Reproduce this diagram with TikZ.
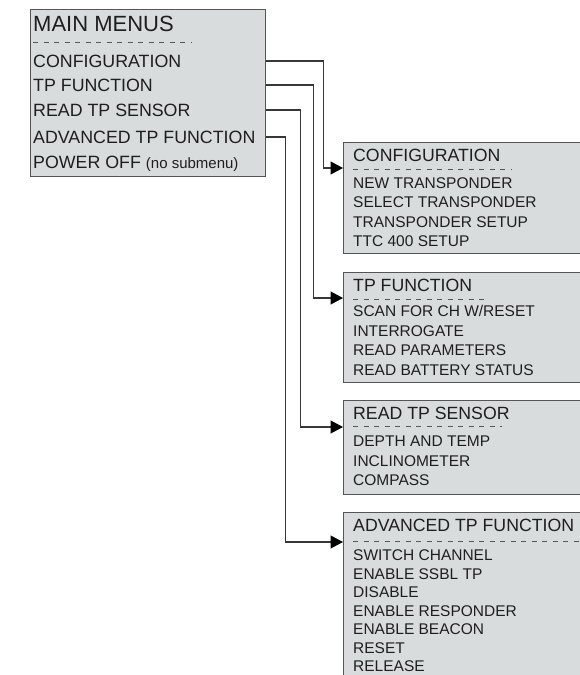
\documentclass[tikz,border=0pt]{standalone}
\usepackage{fontspec}
\setmainfont{Liberation Sans}
\usetikzlibrary{arrows.meta}
\definecolor{boxfill}{RGB}{217,220,221}
\definecolor{boxline}{RGB}{85,85,85}
\definecolor{txt}{RGB}{30,30,30}
\definecolor{conncol}{RGB}{55,55,55}
\tikzset{
  menubox/.style={draw=boxline, line width=1.3pt, fill=boxfill, anchor=north west, inner sep=0pt},
  bigtitle/.style={anchor=west, inner sep=0pt, text=txt, font=\fontsize{22}{24}\selectfont, text height=15.8pt, text depth=0pt},
  mainitem/.style={anchor=west, inner sep=0pt, text=txt, font=\fontsize{17.8}{20}\selectfont, text height=12.7pt, text depth=0pt},
  subtitle/.style={anchor=west, inner sep=0pt, text=txt, font=\fontsize{17.7}{20}\selectfont, text height=12.7pt, text depth=0pt},
  subitem/.style={anchor=west, inner sep=0pt, text=txt, font=\fontsize{15.5}{18}\selectfont, text height=11.1pt, text depth=0pt},
  dashline/.style={draw=boxline, line width=0.95pt, dash pattern=on 5pt off 5.5pt},
  conn/.style={draw=conncol, line width=1.2pt, -{Triangle[length=12.5pt,width=13pt,color=black]}}
}
\begin{document}
\begin{tikzpicture}[x=1pt,y=-1pt]
\useasboundingbox (0,0) rectangle (580,675);
\clip (0,0) rectangle (580,675);
% main box
\node[menubox, minimum width=235pt, minimum height=167pt] (main) at (30,9) {};
\node[bigtitle] (mt) at (33,23.5) {MAIN MENUS};
\draw[dashline] (33,42) -- (192,42);
\node[mainitem] (mcfg) at (33,61) {CONFIGURATION};
\node[mainitem] (mtpf) at (33,85) {TP FUNCTION};
\node[mainitem] (mrts) at (33,110) {READ TP SENSOR};
\node[mainitem] (madv) at (33,137) {ADVANCED TP FUNCTION};
\node[mainitem] (mpow) at (33,162) {POWER OFF {\fontsize{15}{17}\selectfont(no submenu)}};
% configuration box
\node[menubox, minimum width=260pt, minimum height=111pt] (cfg) at (343,142) {};
\node[subtitle] (cfgt) at (353,155.5) {CONFIGURATION};
\draw[dashline] (353,169) -- (512,169);
\node[subitem] (c1) at (353,182.5) {NEW TRANSPONDER};
\node[subitem] (c2) at (353,202) {SELECT TRANSPONDER};
\node[subitem] (c3) at (353,221.5) {TRANSPONDER SETUP};
\node[subitem] (c4) at (353,241) {TTC 400 SETUP};
\coordinate (cfgin) at (343,168);
% tp function box
\node[menubox, minimum width=260pt, minimum height=110pt] (tpf) at (343,272) {};
\node[subtitle] (tpft) at (353,285.5) {TP FUNCTION};
\draw[dashline] (353,299) -- (485,299);
\node[subitem] (t1) at (353,311) {SCAN FOR CH W/RESET};
\node[subitem] (t2) at (353,330.5) {INTERROGATE};
\node[subitem] (t3) at (353,350) {READ PARAMETERS};
\node[subitem] (t4) at (353,369.5) {READ BATTERY STATUS};
\coordinate (tpfin) at (343,298);
% read tp sensor box
\node[menubox, minimum width=260pt, minimum height=94pt] (rts) at (343,400) {};
\node[subtitle] (rtst) at (353,413) {READ TP SENSOR};
\draw[dashline] (353,426) -- (502,426);
\node[subitem] (r1) at (353,441) {DEPTH AND TEMP};
\node[subitem] (r2) at (353,460.5) {INCLINOMETER};
\node[subitem] (r3) at (353,480) {COMPASS};
\coordinate (rtsin) at (343,427);
% advanced box
\node[menubox, minimum width=260pt, minimum height=190pt] (adv) at (343,512) {};
\node[subtitle] (advt) at (353,525.5) {ADVANCED TP FUNCTION};
\draw[dashline] (353,541) -- (580,541);
\node[subitem] (a1) at (353,555) {SWITCH CHANNEL};
\node[subitem] (a2) at (353,573.5) {ENABLE SSBL TP};
\node[subitem] (a3) at (353,592) {DISABLE};
\node[subitem] (a4) at (353,610.5) {ENABLE RESPONDER};
\node[subitem] (a5) at (353,629) {ENABLE BEACON};
\node[subitem] (a6) at (353,647.5) {RESET};
\node[subitem] (a7) at (353,666) {RELEASE};
\coordinate (advin) at (343,542);
% connectors
\draw[conn] (main.east |- mcfg) -- ++(57,0) |- (cfgin);
\draw[conn] (main.east |- mtpf) -- ++(47,0) |- (tpfin);
\draw[conn] (main.east |- mrts) -- ++(34,0) |- (rtsin);
\draw[conn] (main.east |- madv) -- ++(19,0) |- (advin);
\end{tikzpicture}
\end{document}
